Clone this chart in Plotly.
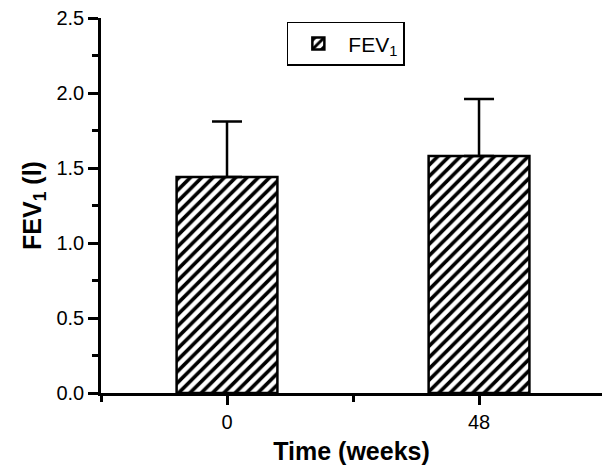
import plotly.graph_objects as go

categories = ["0", "48"]
fev1_mean = [1.44, 1.58]
fev1_sd = [0.37, 0.38]
series_name = "FEV<sub>1</sub>"
y_ticks = [0.0, 0.5, 1.0, 1.5, 2.0, 2.5]

xpos = list(range(len(categories)))

fig = go.Figure()
fig.add_trace(go.Bar(
    x=xpos, y=fev1_mean, name=series_name, width=0.4,
    marker=dict(color="white", line=dict(color="black", width=2.5),
                pattern=dict(shape="/", fgcolor="black", bgcolor="white", size=8,
                             solidity=0.45, fgopacity=1)),
    error_y=dict(type="data", array=fev1_sd, symmetric=False, arrayminus=[0, 0],
                 color="black", thickness=2.5, width=15),
    showlegend=True,
))

fig.update_layout(
    width=602, height=465,
    margin=dict(l=101, r=0, t=18, b=72),
    plot_bgcolor="white", paper_bgcolor="white",
    font=dict(family="Liberation Sans, Arial, sans-serif", size=20, color="black"),
    legend=dict(x=0.371, y=0.99, xanchor="left", yanchor="top",
                bordercolor="black", borderwidth=1.5, bgcolor="white",
                font=dict(size=21), itemwidth=50, tracegroupgap=0),
    xaxis=dict(range=[-0.5, 1.488], tickmode="array", tickvals=xpos, ticktext=categories,
               showline=True, linecolor="black", linewidth=2.5, ticks="outside",
               ticklen=9, tickwidth=2.5, tickcolor="black", showgrid=False, zeroline=False,
               minor=dict(tickmode="array", tickvals=[-0.5, 0.5, 1.5], ticks="outside", ticklen=6,
                          tickwidth=2.5, tickcolor="black", showgrid=False),
               title=dict(text="<b>Time (weeks)</b>", font=dict(size=25), standoff=12)),
    yaxis=dict(range=[0, 2.5], tickmode="array", tickvals=y_ticks,
               ticktext=[f"{v:.1f}" for v in y_ticks],
               showline=True, linecolor="black", linewidth=2.5, ticks="outside",
               ticklen=10, tickwidth=2.5, tickcolor="black", showgrid=False, zeroline=False,
               minor=dict(dtick=0.25, tick0=0, ticks="outside", ticklen=6, tickwidth=2.5,
                          tickcolor="black", showgrid=False),
               title=dict(text="<b>FEV<sub>1</sub> (l)</b>", font=dict(size=25), standoff=8)),
)

fig.write_html("out.html", config={"displayModeBar": False},
               post_script="document.body.style.margin='0';")
